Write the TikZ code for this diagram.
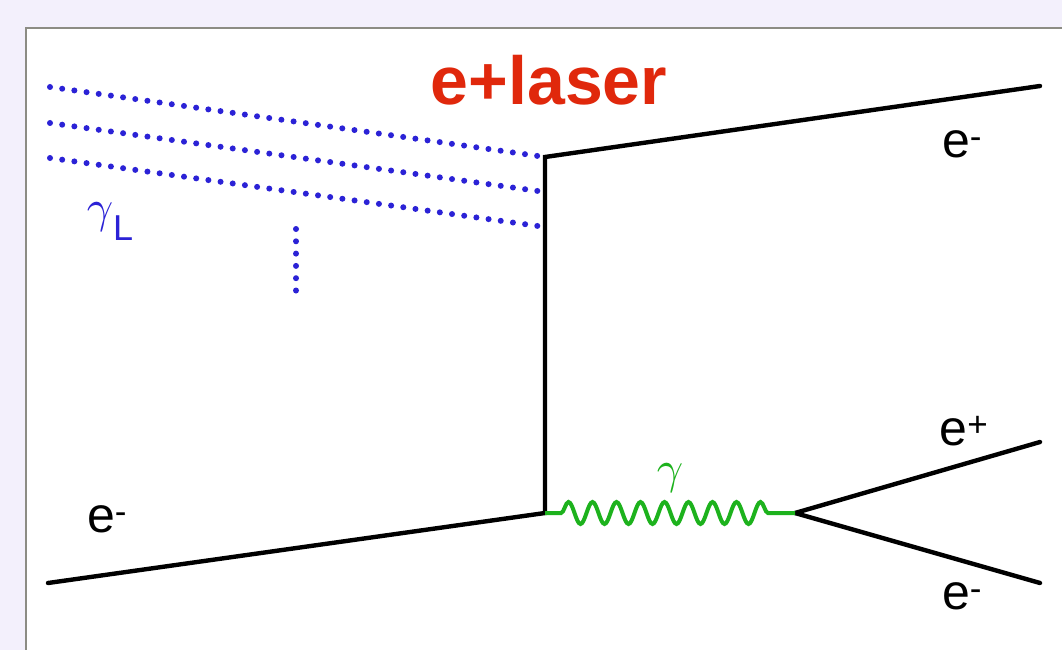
\documentclass[tikz,border=0pt]{standalone}
\usepackage{fontspec}
\setmainfont{Liberation Sans}
\usetikzlibrary{decorations.pathmorphing}
\definecolor{pagebg}{HTML}{F3F0FC}
\definecolor{framegray}{HTML}{8C8C84}
\definecolor{laserblue}{HTML}{2B22D6}
\definecolor{photongreen}{HTML}{1DB21D}
\definecolor{titlered}{HTML}{E0280C}
\newcommand{\biggam}{\scalebox{4.6}{\fontsize{10}{12}\selectfont$\gamma$}}
\tikzset{fermion/.style={line width=4.4pt,draw=black,line cap=round},laser/.style={line width=6pt,draw=laserblue,line cap=round,dash pattern=on 0pt off 12.3pt},photon/.style={line width=4pt,draw=photongreen,decorate,decoration={snake,segment length=24pt,amplitude=11pt,pre length=16pt,post length=22pt}},lbl/.style={font=\fontsize{50}{50}\selectfont,inner sep=0pt}}
\begin{document}
\begin{tikzpicture}[x=1pt,y=-1pt]
\useasboundingbox (0,0) rectangle (1062,650);
\fill[pagebg] (0,0) rectangle (1062,650);
\filldraw[fill=white,draw=framegray,line width=2pt] (26,28) rectangle (1070,660);
% vertices
\coordinate (vtop) at (545,157);
\coordinate (vbot) at (545,513);
\coordinate (vpair) at (795,513);
\coordinate (ein) at (48,583);
\coordinate (eout) at (1040,86);
\coordinate (pos) at (1040,442);
\coordinate (ele) at (1040,583);
% laser photons
\coordinate (l1) at (50,87);
\coordinate (l2) at (50,123);
\coordinate (l3) at (50,158);
\coordinate (m2) at (545,192);
\coordinate (m3) at (545,227);
\coordinate (d1) at (296,229);
\coordinate (d2) at (296,298);
\draw[laser] (l1) -- (vtop);
\draw[laser] (l2) -- (m2);
\draw[laser] (l3) -- (m3);
\draw[laser] (d1) -- (d2);
% electron lines
\draw[fermion] (ein) -- (vbot) -- (vtop) -- (eout);
\draw[fermion] (vpair) -- (pos);
\draw[fermion] (vpair) -- (ele);
\draw[photon] (vbot) -- (vpair);
% labels
\node[font=\bfseries\fontsize{68}{68}\selectfont,text=titlered,inner sep=0pt] (title) at (549,80) {e+laser};
\node[lbl] (lein) at (107,519) {e\textsuperscript{-}};
\node[lbl] (leout) at (962,144) {e\textsuperscript{-}};
\node[lbl] (lpos) at (964,431) {e\textsuperscript{+}};
\node[lbl] (lele) at (962,596) {e\textsuperscript{-}};
\node[text=photongreen,inner sep=0pt] (lgam) at (670,478) {\biggam};
\node[text=laserblue,inner sep=0pt] (lgamL) at (110,222) {\biggam\raisebox{-18pt}{\fontsize{36}{36}\selectfont L}};
\end{tikzpicture}
\end{document}
